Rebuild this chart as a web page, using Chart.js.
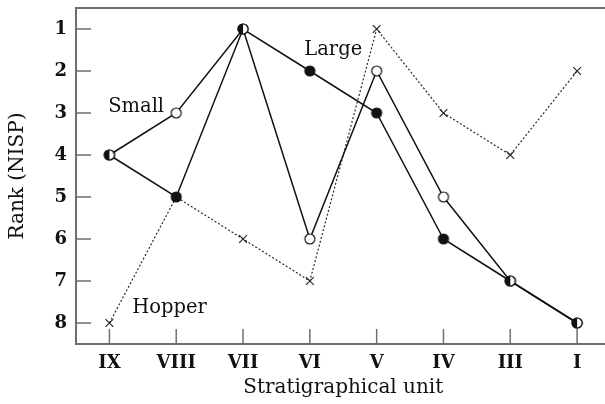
<!DOCTYPE html>
<html>
<head>
<meta charset="utf-8">
<script src="https://cdn.jsdelivr.net/npm/chart.js@4/dist/chart.umd.min.js"></script>
<style>
  html, body { margin: 0; padding: 0; background: #fff; overflow: hidden; }
  #wrap { width: 618px; height: 404px; }
</style>
</head>
<body>
<div id="wrap"><canvas id="rankChart" width="618" height="404"></canvas></div>
<script>
const units = ['IX', 'VIII', 'VII', 'VI', 'V', 'IV', 'III', 'I'];
const smallRank = [4, 3, 1, 6, 2, 5, 7, 8];
const largeRank = [4, 5, 1, 2, 3, 6, 7, 8];
const hopperRank = [8, 5, 6, 7, 1, 3, 4, 2];
const rankTicks = [1, 2, 3, 4, 5, 6, 7, 8];

const serif = '"DejaVu Serif", "Liberation Serif", serif';
const axisGrey = '#6e6e6e';
const ink = '#111';

// marker images: open, filled and half-filled circles
function makeMarker(kind) {
    const c = document.createElement('canvas');
    c.width = 14; c.height = 14;
    const g = c.getContext('2d');
    const r = 5;
    g.beginPath();
    g.arc(7, 7, r, 0, Math.PI * 2);
    g.fillStyle = kind === 'filled' ? ink : '#fff';
    g.fill();
    if (kind === 'half') {
        g.beginPath();
        g.arc(7, 7, r, Math.PI / 2, Math.PI * 1.5);
        g.closePath();
        g.fillStyle = ink;
        g.fill();
    }
    g.beginPath();
    g.arc(7, 7, r, 0, Math.PI * 2);
    g.lineWidth = 1.2;
    g.strokeStyle = ink;
    g.stroke();
    return c;
}
const openDot = makeMarker('open');
const fullDot = makeMarker('filled');
const halfDot = makeMarker('half');

const smallStyles = smallRank.map((v, i) => v === largeRank[i] ? halfDot : openDot);
const largeStyles = largeRank.map((v, i) => v === smallRank[i] ? halfDot : fullDot);

// top frame line, inward ticks and series names
const decor = {
    id: 'decor',
    beforeDatasetsDraw(chart) {
        const { ctx, chartArea, scales } = chart;
        ctx.save();
        ctx.strokeStyle = axisGrey;
        ctx.lineWidth = 2;
        ctx.beginPath();
        ctx.moveTo(chartArea.left - 1, chartArea.top);
        ctx.lineTo(chartArea.right + 5, chartArea.top);
        ctx.stroke();
        ctx.lineWidth = 1.5;
        rankTicks.forEach(v => {
            const y = scales.y.getPixelForValue(v);
            ctx.beginPath();
            ctx.moveTo(chartArea.left, y);
            ctx.lineTo(chartArea.left + 15, y);
            ctx.stroke();
        });
        units.forEach((u, i) => {
            const x = scales.x.getPixelForValue(i);
            ctx.beginPath();
            ctx.moveTo(x, chartArea.bottom);
            ctx.lineTo(x, chartArea.bottom - 15);
            ctx.stroke();
        });
        ctx.restore();
    },
    afterDatasetsDraw(chart) {
        const { ctx, scales } = chart;
        const names = [
            { text: 'Small', x: 0.4, y: 2.85 },
            { text: 'Large', x: 3.35, y: 1.5 },
            { text: 'Hopper', x: 0.9, y: 7.65 }
        ];
        ctx.save();
        ctx.font = '19.5px ' + serif;
        ctx.fillStyle = ink;
        ctx.textAlign = 'center';
        ctx.textBaseline = 'middle';
        names.forEach(n => {
            ctx.fillText(n.text, scales.x.getPixelForValue(n.x), scales.y.getPixelForValue(n.y));
        });
        ctx.restore();
    }
};

const ctx = document.getElementById('rankChart').getContext('2d');
new Chart(ctx, {
    type: 'line',
    data: {
        labels: units,
        datasets: [
            {
                label: 'Small',
                data: smallRank,
                borderColor: ink,
                borderWidth: 1.5,
                pointStyle: smallStyles,
                pointRadius: 6
            },
            {
                label: 'Large',
                data: largeRank,
                borderColor: ink,
                borderWidth: 1.5,
                pointStyle: largeStyles,
                pointRadius: 6
            },
            {
                label: 'Hopper',
                data: hopperRank,
                borderColor: '#2a2a2a',
                borderWidth: 1.2,
                borderDash: [2, 2],
                pointStyle: 'crossRot',
                pointRadius: 5.5,
                pointBorderWidth: 1.1,
                pointBorderColor: '#222'
            }
        ]
    },
    options: {
        responsive: false,
        animation: false,
        layout: { padding: { left: 0, right: 2, top: 8, bottom: 4 } },
        plugins: {
            legend: { display: false },
            tooltip: { enabled: false }
        },
        scales: {
            x: {
                type: 'category',
                offset: true,
                grid: { display: false, drawTicks: false },
                border: { display: true, color: axisGrey, width: 2 },
                ticks: {
                    color: ink,
                    padding: 9,
                    font: { family: serif, size: 18, weight: 'bold' }
                },
                title: {
                    display: true,
                    text: 'Stratigraphical unit',
                    color: ink,
                    padding: { top: 0, bottom: 0 },
                    font: { family: serif, size: 20 }
                },
                afterFit(scale) {
                    scale.height = 56;
                    scale.paddingLeft = 0;
                    scale.paddingRight = 0;
                }
            },
            y: {
                type: 'linear',
                reverse: true,
                min: 0.5,
                max: 8.5,
                afterBuildTicks(scale) {
                    scale.ticks = rankTicks.map(v => ({ value: v }));
                },
                grid: { display: false, drawTicks: false },
                border: { display: true, color: axisGrey, width: 2 },
                ticks: {
                    color: ink,
                    padding: 9,
                    font: { family: serif, size: 18, weight: 'bold' }
                },
                title: {
                    display: true,
                    text: 'Rank (NISP)',
                    color: ink,
                    padding: { top: 6, bottom: 0 },
                    font: { family: serif, size: 20 }
                },
                afterFit(scale) {
                    scale.width = 76;
                    scale.paddingTop = 0;
                    scale.paddingBottom = 0;
                }
            }
        }
    },
    plugins: [decor]
});
</script>
</body>
</html>
